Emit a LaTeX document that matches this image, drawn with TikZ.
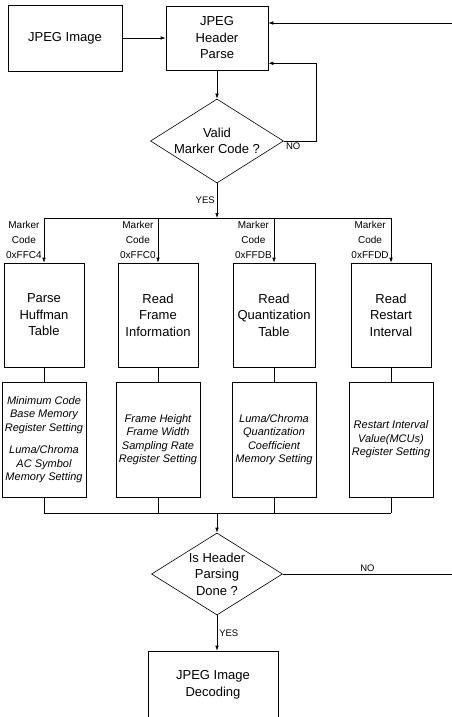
\documentclass[tikz,border=0pt]{standalone}
\usepackage{fontspec}
\setmainfont{Liberation Sans}
\usetikzlibrary{shapes.geometric,arrows.meta}

\begin{document}
\begin{tikzpicture}[x=1pt,y=-1pt,line width=0.6pt,
        box/.style={draw,align=center,inner sep=1pt,font=\fontsize{13}{16.5}\selectfont},
        cond/.style={draw,diamond,shape aspect=1.58,inner sep=0pt,align=center,font=\fontsize{13}{16.5}\selectfont},
        note/.style={draw,align=center,inner sep=1pt,minimum width=84pt,minimum height=115pt,font=\fontsize{11}{13.5}\selectfont\itshape},
        code/.style={align=center,inner sep=2pt,font=\fontsize{10}{15}\selectfont},
        tag/.style={inner sep=2pt,font=\fontsize{9.5}{11}\selectfont},
        arr/.style={-{Latex[length=5pt,width=3.5pt]}}]
        % Margini
        \clip (0,0) rectangle (452,717);

        % Lettura intestazione
        \node[box,minimum width=114pt,minimum height=66pt] (img) at (65,38) {JPEG Image};
        \node[box,minimum width=102pt,minimum height=64pt] (hdr) at (217,38) {JPEG\\Header\\Parse};
        \node[cond,minimum width=133pt,minimum height=84pt] (valid) at (217,141) {Valid\\Marker Code ?};

        % Punti di diramazione
        \coordinate (split) at (217,218);
        \coordinate (merge) at (217,513);
        \coordinate (back) at (316,141);
        \coordinate (loop) at (452,574);
        \coordinate (ret) at (452,23);

        % Marker
        \node[box,minimum width=80pt,minimum height=104pt] (huf) at (44,315) {Parse\\Huffman\\Table};
        \node[box,minimum width=80pt,minimum height=104pt] (frm) at (158,315) {Read\\Frame\\Information};
        \node[box,minimum width=82pt,minimum height=104pt] (qnt) at (274,315) {Read\\Quantization\\Table};
        \node[box,minimum width=80pt,minimum height=104pt] (rst) at (391,315) {Read\\Restart\\Interval};

        % Impostazioni registri
        \node[note] (huf-reg) at (44,439.5) {Minimum Code\\Base Memory\\Register Setting\\[9pt]Luma/Chroma\\AC Symbol\\Memory Setting};
        \node[note] (frm-reg) at (158,439.5) {Frame Height\\Frame Width\\Sampling Rate\\Register Setting};
        \node[note] (qnt-reg) at (274,439.5) {Luma/Chroma\\Quantization\\Coefficient\\Memory Setting};
        \node[note] (rst-reg) at (391,439.5) {Restart Interval\\Value(MCUs)\\Register Setting};

        % Fine intestazione
        \node[cond,minimum width=131pt,minimum height=82pt] (done) at (217,574) {Is Header\\Parsing\\Done ?};
        \node[box,minimum width=130pt,minimum height=68pt] (dec) at (213,685) {JPEG Image\\Decoding};

        % Collegamenti
        \draw[arr] (img) -- (hdr);
        \draw[arr] (hdr) -- (valid);
        \draw[arr] (valid.east) -- (back) |- ([yshift=7pt]hdr.south east);
        \node[tag,below right] (no1) at (valid.east) {NO};
        \draw[arr] (ret) -- (ret -| hdr.east);
        \draw[arr] (valid) -- node[tag,left] (yes1) {YES} (split);
        \draw (split -| huf) -- (split -| rst);
        \foreach \b/\c in {huf/C4,frm/C0,qnt/DB,rst/DD} {
            \draw[arr] (split -| \b) -- node[code,left] (m\c) {Marker\\Code\\0xFF\c} (\b.north);
            \draw (\b.south) -- (\b-reg.north);
            \draw (\b-reg.south) -- (merge -| \b);
        }
        \draw (merge -| huf) -- (merge -| rst);
        \draw[arr] (merge) -- (done);
        \draw (done) -- node[tag,above] (no2) {NO} (loop);
        \draw[arr] (done) -- node[tag,right] (yes2) {YES} (done |- dec.north);
    \end{tikzpicture}
\end{document}
